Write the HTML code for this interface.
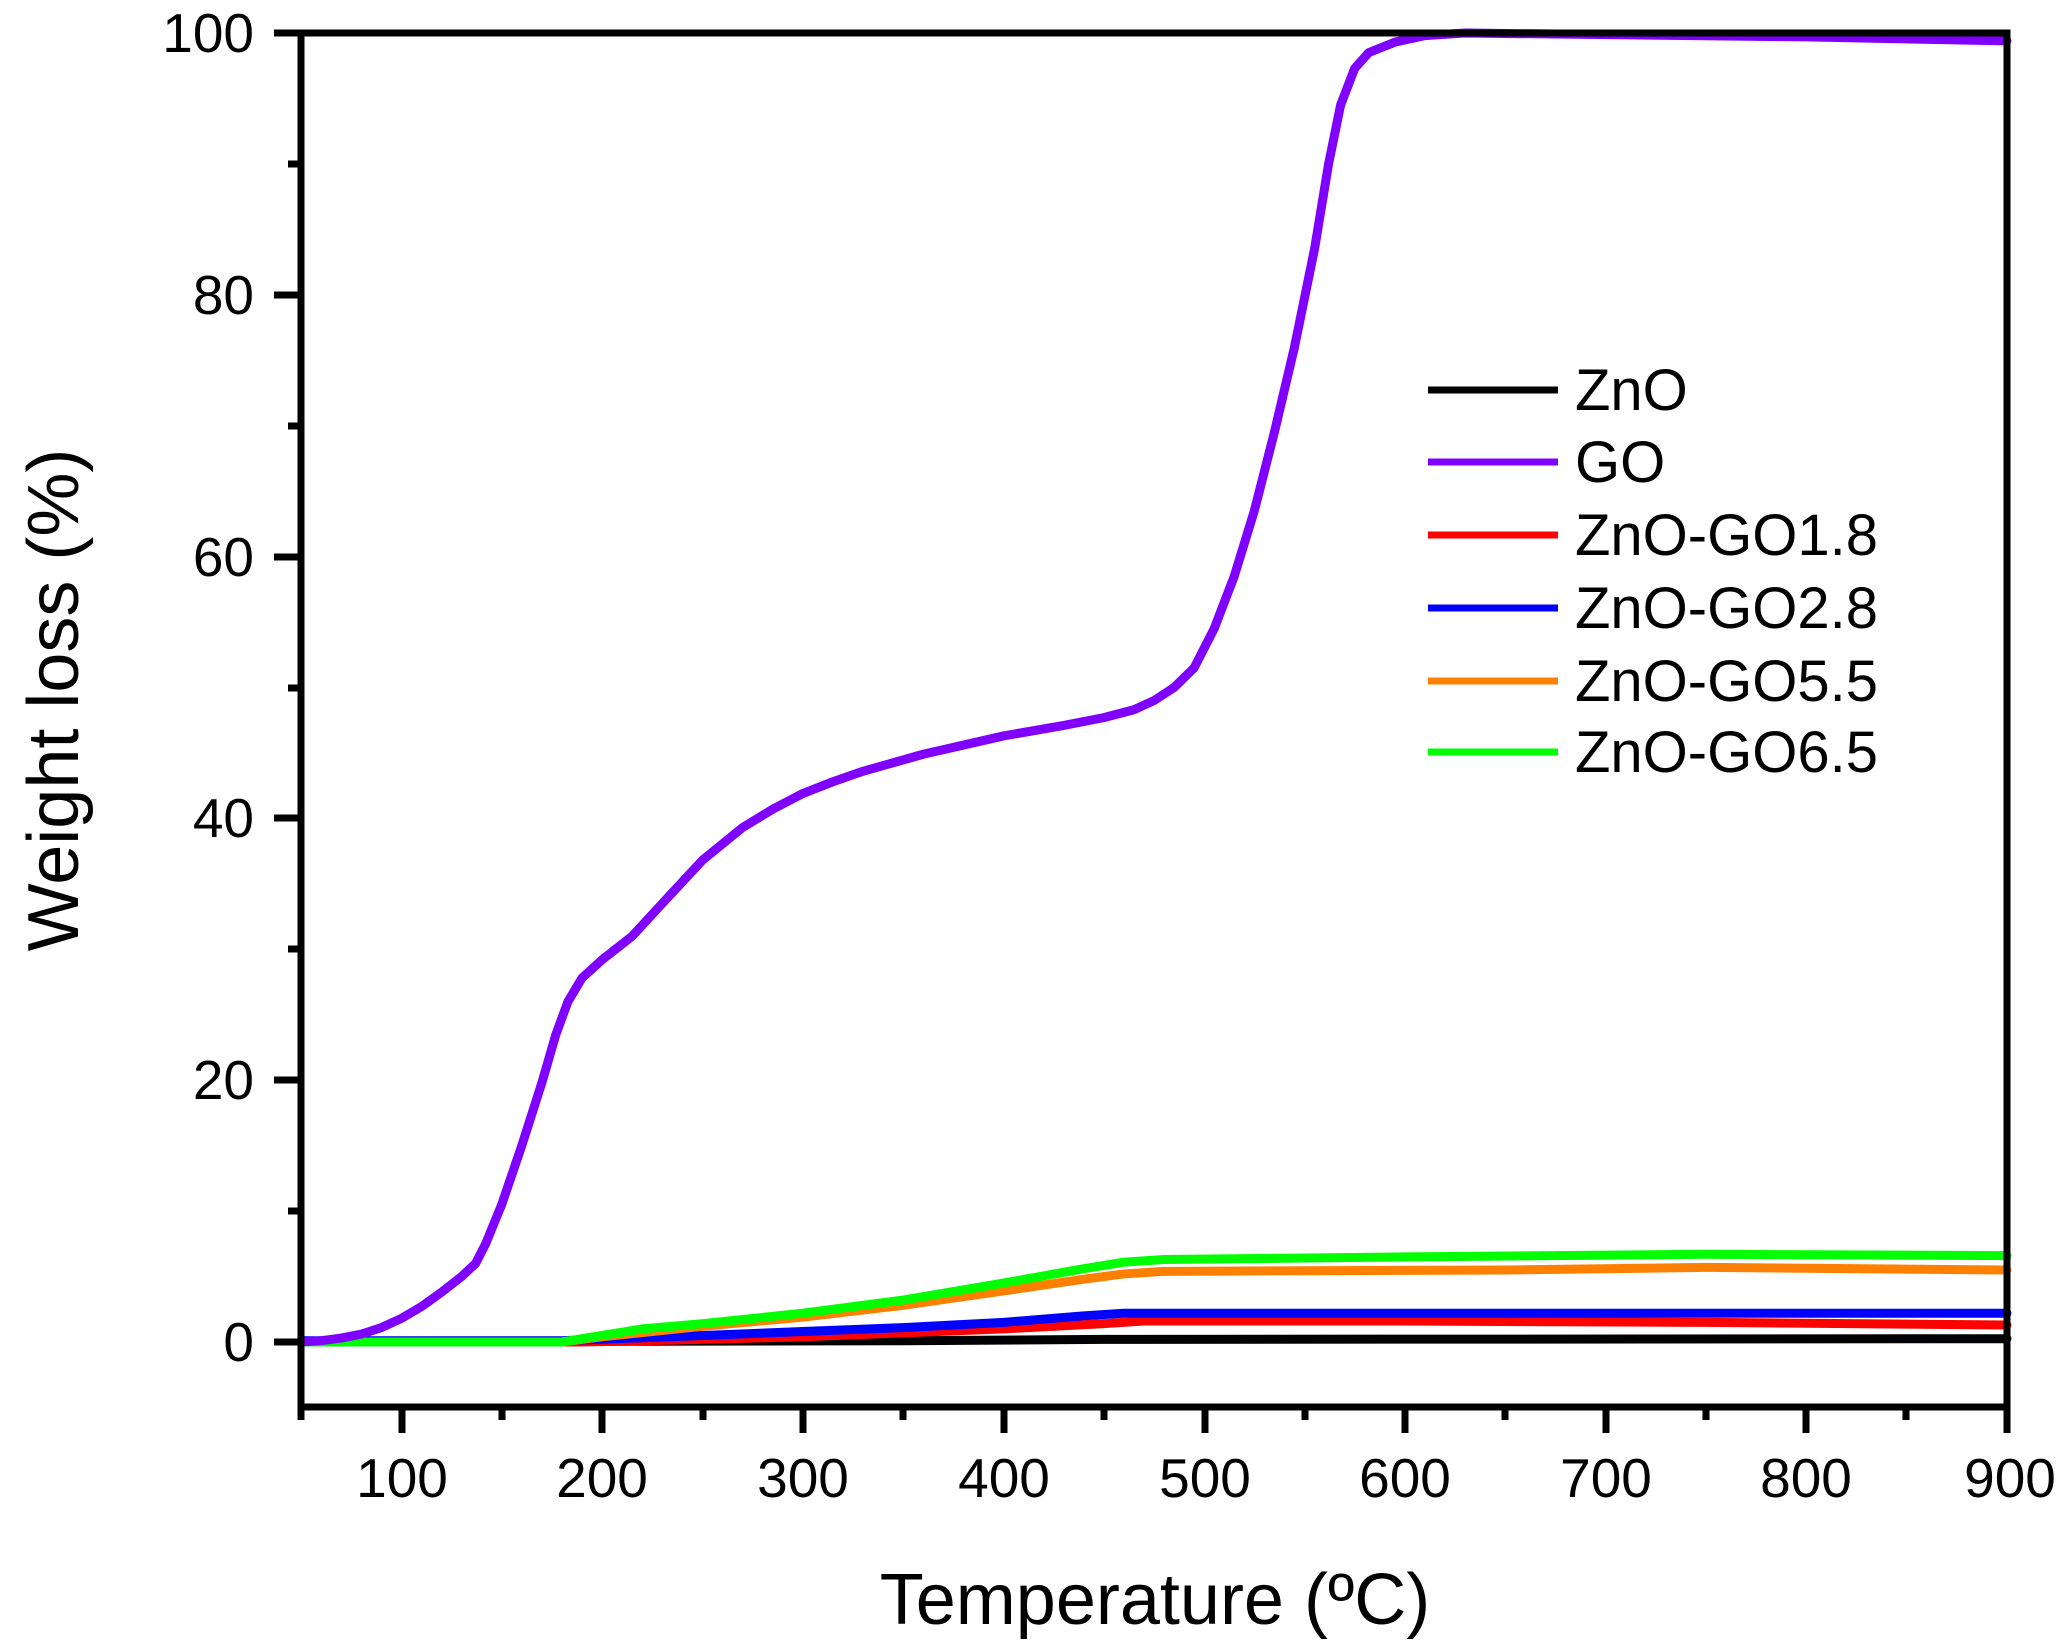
<!DOCTYPE html>
<html><head><meta charset="utf-8"><style>
html,body{margin:0;padding:0;background:#fff;}
svg{display:block;font-family:"Liberation Sans",Arial,sans-serif;}
</style></head><body>
<svg width="2068" height="1641" viewBox="0 0 2068 1641" xmlns="http://www.w3.org/2000/svg">
<rect width="2068" height="1641" fill="#fff"/>
<g transform="translate(301,1342) scale(2.007,-13.09)" fill="none" stroke-linejoin="round" stroke-linecap="round">
<polyline vector-effect="non-scaling-stroke" stroke="#000" stroke-width="9" points="0,0 150,0.05 300,0.1 400,0.2 850,0.25"/>
<polyline vector-effect="non-scaling-stroke" stroke="#ff0000" stroke-width="9" points="0,0 140,0 200,0.2 250,0.4 300,0.7 350,1 400,1.4 420,1.6 550,1.6 700,1.5 850,1.3"/>
<polyline vector-effect="non-scaling-stroke" stroke="#0000ff" stroke-width="9" points="0,0.1 130,0.1 200,0.5 250,0.8 300,1.1 350,1.5 390,2 410,2.2 850,2.2"/>
<polyline vector-effect="non-scaling-stroke" stroke="#ff8000" stroke-width="9" points="0,0 130,0 150,0.4 200,1.2 250,1.9 300,2.8 350,3.9 390,4.8 410,5.2 430,5.4 600,5.5 700,5.7 850,5.5"/>
<polyline vector-effect="non-scaling-stroke" stroke="#00ff00" stroke-width="9" points="0,0 130,0 150,0.5 170,1 200,1.4 250,2.2 300,3.2 350,4.5 390,5.6 410,6.1 430,6.3 550,6.5 700,6.7 850,6.6"/>
<polyline vector-effect="non-scaling-stroke" stroke="#8000ff" stroke-width="9" points="0,0 10,0.1 20,0.3 30,0.6 40,1.1 50,1.8 60,2.7 70,3.8 80,5 87,6 92,7.5 100,10.5 110,15 120,19.8 127,23.5 133,26 140,27.8 150,29.2 165,31 180,33.5 200,36.8 220,39.3 235,40.7 250,41.9 265,42.8 280,43.6 310,44.9 350,46.3 380,47.1 400,47.7 415,48.3 425,49 435,50 445,51.5 455,54.5 465,58.5 475,63.5 485,69.5 495,76 505,83.5 512,90 518,94.5 525,97.3 532,98.5 545,99.3 560,99.8 580,100 750,99.7 850,99.4"/>
</g>
<g stroke="#000" stroke-width="7" fill="none">
<rect x="301" y="33" width="1706" height="1374"/>
</g>
<g stroke="#000" stroke-width="7">
<line x1="274" y1="1342" x2="301" y2="1342"/>
<line x1="274" y1="1080" x2="301" y2="1080"/>
<line x1="274" y1="818" x2="301" y2="818"/>
<line x1="274" y1="557" x2="301" y2="557"/>
<line x1="274" y1="295" x2="301" y2="295"/>
<line x1="274" y1="33" x2="301" y2="33"/>
<line x1="288" y1="1211" x2="301" y2="1211"/>
<line x1="288" y1="949" x2="301" y2="949"/>
<line x1="288" y1="688" x2="301" y2="688"/>
<line x1="288" y1="426" x2="301" y2="426"/>
<line x1="288" y1="164" x2="301" y2="164"/>
<line x1="402" y1="1407" x2="402" y2="1433"/>
<line x1="602" y1="1407" x2="602" y2="1433"/>
<line x1="803" y1="1407" x2="803" y2="1433"/>
<line x1="1004" y1="1407" x2="1004" y2="1433"/>
<line x1="1205" y1="1407" x2="1205" y2="1433"/>
<line x1="1405" y1="1407" x2="1405" y2="1433"/>
<line x1="1606" y1="1407" x2="1606" y2="1433"/>
<line x1="1806" y1="1407" x2="1806" y2="1433"/>
<line x1="2007" y1="1407" x2="2007" y2="1433"/>
<line x1="301" y1="1407" x2="301" y2="1420"/>
<line x1="502" y1="1407" x2="502" y2="1420"/>
<line x1="703" y1="1407" x2="703" y2="1420"/>
<line x1="903" y1="1407" x2="903" y2="1420"/>
<line x1="1104" y1="1407" x2="1104" y2="1420"/>
<line x1="1305" y1="1407" x2="1305" y2="1420"/>
<line x1="1505" y1="1407" x2="1505" y2="1420"/>
<line x1="1706" y1="1407" x2="1706" y2="1420"/>
<line x1="1906" y1="1407" x2="1906" y2="1420"/>
</g>
<g font-size="55" fill="#000" text-anchor="end">
<text x="254" y="1361">0</text>
<text x="254" y="1099">20</text>
<text x="254" y="837">40</text>
<text x="254" y="576">60</text>
<text x="254" y="314">80</text>
<text x="254" y="52">100</text>
</g>
<g font-size="55" fill="#000" text-anchor="middle">
<text x="402" y="1497">100</text>
<text x="602" y="1497">200</text>
<text x="803" y="1497">300</text>
<text x="1004" y="1497">400</text>
<text x="1205" y="1497">500</text>
<text x="1405" y="1497">600</text>
<text x="1606" y="1497">700</text>
<text x="1806" y="1497">800</text>
<text x="2010" y="1497">900</text>
</g>
<text x="1155" y="1624" font-size="72" text-anchor="middle">Temperature (ºC)</text>
<text transform="translate(78,700) rotate(-90)" font-size="72" text-anchor="middle">Weight loss (%)</text>
<g stroke-width="7">
<line x1="1428" y1="390" x2="1558" y2="390" stroke="#000"/>
<line x1="1428" y1="462" x2="1558" y2="462" stroke="#8000ff"/>
<line x1="1428" y1="535" x2="1558" y2="535" stroke="#ff0000"/>
<line x1="1428" y1="608" x2="1558" y2="608" stroke="#0000ff"/>
<line x1="1428" y1="681" x2="1558" y2="681" stroke="#ff8000"/>
<line x1="1428" y1="752" x2="1558" y2="752" stroke="#00ff00"/>
</g>
<g font-size="58" fill="#000">
<text x="1575" y="410">ZnO</text>
<text x="1575" y="482">GO</text>
<text x="1575" y="555">ZnO-GO1.8</text>
<text x="1575" y="628">ZnO-GO2.8</text>
<text x="1575" y="701">ZnO-GO5.5</text>
<text x="1575" y="772">ZnO-GO6.5</text>
</g>
</svg>
</body></html>
